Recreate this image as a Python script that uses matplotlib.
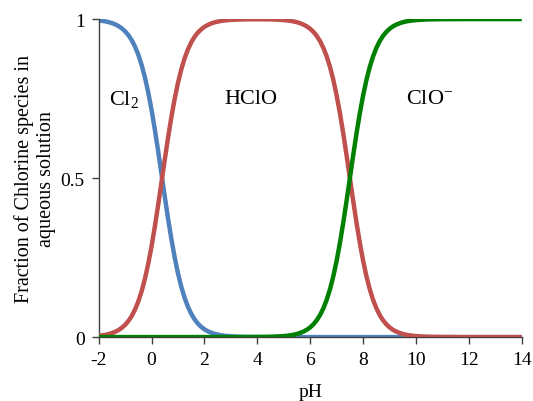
import matplotlib
matplotlib.use("Agg")
import matplotlib.pyplot as plt
import numpy as np

# pH sample points: finer where the curves bend
PH = np.concatenate([
    np.arange(-2, 3.01, 0.125),
    np.arange(3.25, 4.76, 0.25),
    np.arange(5, 10.01, 0.125),
    np.arange(10.25, 14.01, 0.25),
])

CL2 = [
    0.9960, 0.9947, 0.9930, 0.9906, 0.9876, 0.9835, 0.9781, 0.9710,
    0.9617, 0.9496, 0.9339, 0.9138, 0.8882, 0.8563, 0.8171, 0.7701,
    0.7153, 0.6532, 0.5855, 0.5144, 0.4427, 0.3733, 0.3088, 0.2509,
    0.2008, 0.1585, 0.1238, 0.0958, 0.0736, 0.0562, 0.0427, 0.0324,
    0.0245, 0.0185, 0.0139, 0.0105, 0.0079, 0.0059, 0.0044, 0.0033,
    0.0025,
    0.0014, 0.0008, 0.0004, 0.0003, 0.0001, 0.0, 0.0,
] + [0.0] * 41 + [0.0] * 16

HCLO = [
    0.0040, 0.0053, 0.0070, 0.0094, 0.0124, 0.0165, 0.0219, 0.0290,
    0.0383, 0.0504, 0.0661, 0.0862, 0.1118, 0.1437, 0.1829, 0.2299,
    0.2847, 0.3468, 0.4145, 0.4856, 0.5573, 0.6267, 0.6912, 0.7491,
    0.7992, 0.8415, 0.8762, 0.9042, 0.9264, 0.9438, 0.9573, 0.9676,
    0.9755, 0.9815, 0.9861, 0.9895, 0.9921, 0.9941, 0.9956, 0.9967,
    0.9975,
    0.9985, 0.9991, 0.9994, 0.9994, 0.9993, 0.9990, 0.9982,
    0.9968, 0.9958, 0.9944, 0.9926, 0.9901, 0.9868, 0.9825, 0.9768,
    0.9693, 0.9595, 0.9467, 0.9302, 0.9091, 0.8823, 0.8490, 0.8083,
    0.7597, 0.7034, 0.6401, 0.5715, 0.5000, 0.4285, 0.3599, 0.2966,
    0.2403, 0.1917, 0.1510, 0.1177, 0.0909, 0.0697, 0.0532, 0.0405,
    0.0306, 0.0230, 0.0175, 0.0133, 0.0099, 0.0074, 0.0056, 0.0042,
    0.0032,
    0.0018, 0.0010, 0.0006, 0.0003, 0.0002, 0.0001,
] + [0.0] * 10

CLO = [0.0] * 41 + [
    0.0001, 0.0001, 0.0002, 0.0003, 0.0006, 0.0010, 0.0018,
    0.0032, 0.0042, 0.0056, 0.0074, 0.0099, 0.0132, 0.0175, 0.0232,
    0.0307, 0.0405, 0.0533, 0.0698, 0.0909, 0.1177, 0.1510, 0.1917,
    0.2403, 0.2966, 0.3599, 0.4285, 0.5000, 0.5715, 0.6401, 0.7034,
    0.7597, 0.8083, 0.8490, 0.8823, 0.9091, 0.9303, 0.9468, 0.9595,
    0.9694, 0.9770, 0.9825, 0.9867, 0.9901, 0.9926, 0.9944, 0.9958,
    0.9968,
    0.9982, 0.9990, 0.9994, 0.9997, 0.9998, 0.9999,
] + [1.0] * 10

LABELS = ["Cl$_2$", "HClO", "ClO$^{-}$"]
LABEL_POS = [(-1.03, 0.75), (3.75, 0.75), (10.5, 0.75)]

plt.rcParams["font.family"] = ["Liberation Serif", "DejaVu Serif"]
plt.rcParams["mathtext.default"] = "regular"
plt.rcParams["axes.unicode_minus"] = False

fig = plt.figure(figsize=(5.33, 4.02), dpi=100)
ax = fig.add_axes([0.185, 0.159, 0.794, 0.791])

style = dict(lw=3.2, solid_capstyle="butt", solid_joinstyle="round")
ax.plot(PH, CL2, color="#4F81BD", zorder=2, **style)
ax.plot(PH, HCLO, color="#C0504D", zorder=3, **style)
ax.plot(PH, CLO, color="#008000", zorder=4, **style)

for text, (x, y) in zip(LABELS, LABEL_POS):
    ax.text(x, y, text, fontsize=16, ha="center", va="center")

ax.set_xlim(-2, 14)
ax.set_ylim(0, 1)
ax.set_xticks(np.arange(-2, 15, 2))
ax.set_yticks([0, 0.5, 1])
ax.set_yticklabels(["0", "0.5", "1"])
ax.tick_params(direction="out", length=5, width=1, labelsize=14, pad=5, color="#404040")
for side in ("top", "right"):
    ax.spines[side].set_visible(False)
for side in ("left", "bottom"):
    ax.spines[side].set_color("#404040")
    ax.spines[side].set_linewidth(1)

ax.set_xlabel("pH", fontsize=14, labelpad=11)
ax.set_ylabel("Fraction of Chlorine species in\naqueous solution",
              fontsize=14.5, labelpad=3, linespacing=1.25)

fig.savefig("out.png", dpi=100)
